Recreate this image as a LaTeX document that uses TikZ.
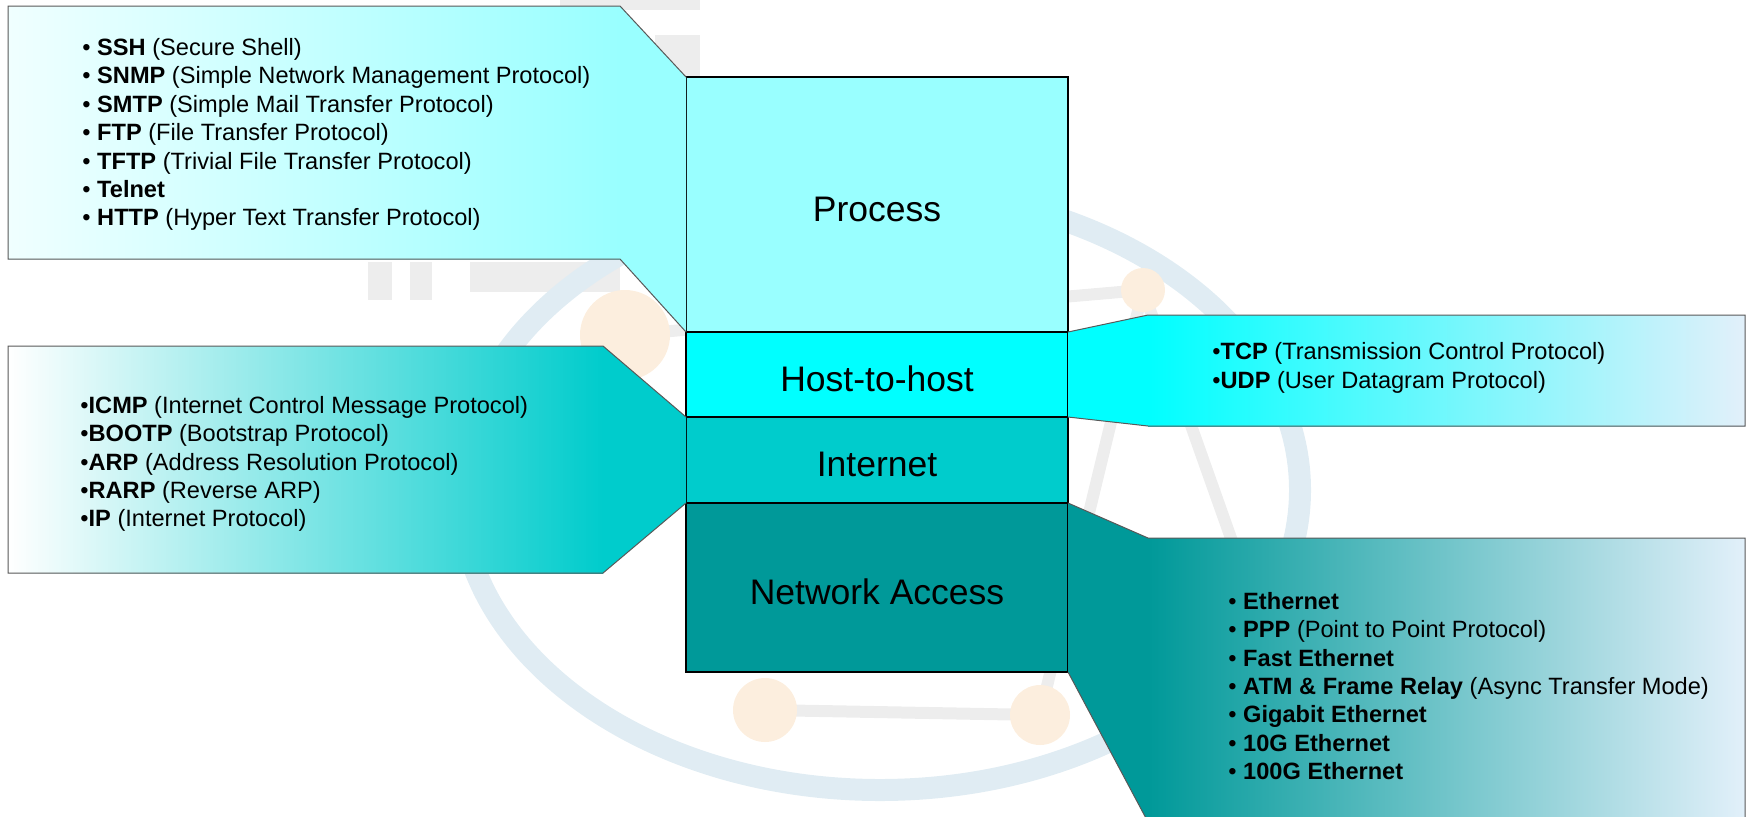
\documentclass[tikz,border=0pt]{standalone}
\usepackage{fontspec}
\setmainfont{Liberation Sans}
\usepackage{tikz}
\usetikzlibrary{positioning}

\definecolor{procfill}{RGB}{153,255,255}
\definecolor{hostfill}{RGB}{0,255,255}
\definecolor{inetfill}{RGB}{0,204,204}
\definecolor{nafill}{RGB}{0,153,153}
\definecolor{pale}{RGB}{226,240,250}
\definecolor{paletop}{RGB}{240,255,255}
\definecolor{wmblue}{RGB}{224,236,243}
\definecolor{wmorange}{RGB}{252,238,222}
\definecolor{wmgray}{RGB}{237,237,237}

\tikzset{
  layer/.style={draw=black, line width=0.8pt, outer sep=0pt, inner sep=0pt,
    minimum width=191pt, text height=16.5pt, text depth=0pt,
    font=\fontsize{17.75}{20}\selectfont},
  callout/.style={draw=black!65, line width=0.5pt},
  protolist/.style={align=left, inner sep=0pt, anchor=west,
    font=\fontsize{11.8}{14.2}\selectfont}
}

\begin{document}
\begin{tikzpicture}[x=0.5pt,y=-0.5pt]
  \useasboundingbox (0,0) rectangle (1748,816);

  % faint logo in the background
  \fill[wmgray] (560,0) rectangle (700,10);
  \fill[wmgray] (655,35) rectangle (700,80);
  \fill[wmgray] (368,262) rectangle (392,300);
  \fill[wmgray] (410,262) rectangle (432,300);
  \fill[wmgray] (470,262) rectangle (620,292);
  \draw[wmblue, line width=11pt] (880,490) ellipse [x radius=420, y radius=300];
  \draw[wmgray, line width=6pt] (625,335) -- (1143,290);
  \draw[wmgray, line width=6pt] (1143,290) -- (1040,715);
  \draw[wmgray, line width=6pt] (1143,290) -- (1260,620);
  \draw[wmgray, line width=6pt] (765,710) -- (1040,715);
  \fill[wmorange] (625,335) circle (45);
  \fill[wmorange] (1143,290) circle (22);
  \fill[wmorange] (765,710) circle (32);
  \fill[wmorange] (1040,715) circle (30);

  % TCP/IP layers
  \node[layer, fill=procfill, minimum height=127.5pt, anchor=north west]
    (process) at (686,77) {Process};
  \node[layer, fill=hostfill, minimum height=42.5pt, below=0pt of process]
    (host) {Host-to-host};
  \node[layer, fill=inetfill, minimum height=43pt, below=0pt of host]
    (internet) {Internet};
  \node[layer, fill=nafill, minimum height=84.5pt, below=0pt of internet]
    (netaccess) {Network Access};

  % process callout
  \shade[left color=paletop, right color=procfill] (8,6) rectangle (620,259);
  \fill[procfill] (620,6) -- (process.north west) -- (process.south west) --
    (620,259) -- cycle;
  \draw[callout] (process.north west) -- (620,6) -- (8,6) -- (8,259) --
    (620,259) -- (process.south west);

  % internet callout
  \shade[left color=white, right color=inetfill] (8,346) rectangle (603,573);
  \fill[inetfill] (603,346) -- (internet.north west) -- (internet.south west) --
    (603,573) -- cycle;
  \draw[callout] (internet.north west) -- (603,346) -- (8,346) -- (8,573) --
    (603,573) -- (internet.south west);

  % host-to-host callout
  \shade[left color=hostfill, middle color=hostfill!75!pale, right color=pale]
    (1148,315) rectangle (1745,426);
  \fill[hostfill] (host.north east) -- (1148,315) -- (1148,426) --
    (host.south east) -- cycle;
  \draw[callout] (host.north east) -- (1148,315) -- (1745,315) -- (1745,426) --
    (1148,426) -- (host.south east);

  % network access callout
  \shade[left color=nafill, right color=pale] (1148,538) rectangle (1745,822);
  \fill[nafill] (netaccess.north east) -- (1148,538) -- (1148,822) --
    (netaccess.south east) -- cycle;
  \draw[callout] (netaccess.north east) -- (1148,538) -- (1745,538) --
    (1745,822);
  \draw[callout] (netaccess.south east) -- (1148,822);

  % protocol lists
  \node[protolist] (applist) at (82,134.5) {%
    \textbullet\ \textbf{SSH} (Secure Shell)\\
    \textbullet\ \textbf{SNMP} (Simple Network Management Protocol)\\
    \textbullet\ \textbf{SMTP} (Simple Mail Transfer Protocol)\\
    \textbullet\ \textbf{FTP} (File Transfer Protocol)\\
    \textbullet\ \textbf{TFTP} (Trivial File Transfer Protocol)\\
    \textbullet\ \textbf{Telnet}\\
    \textbullet\ \textbf{HTTP} (Hyper Text Transfer Protocol)};
  \node[protolist] (inetlist) at (80,464) {%
    \textbullet\textbf{ICMP} (Internet Control Message Protocol)\\
    \textbullet\textbf{BOOTP} (Bootstrap Protocol)\\
    \textbullet\textbf{ARP} (Address Resolution Protocol)\\
    \textbullet\textbf{RARP} (Reverse ARP)\\
    \textbullet\textbf{IP} (Internet Protocol)};
  \node[protolist] (hostlist) at (1212,368) {%
    \textbullet\textbf{TCP} (Transmission Control Protocol)\\
    \textbullet\textbf{UDP} (User Datagram Protocol)};
  \node[protolist] (nalist) at (1228,686) {%
    \textbullet\ \textbf{Ethernet}\\
    \textbullet\ \textbf{PPP} (Point to Point Protocol)\\
    \textbullet\ \textbf{Fast Ethernet}\\
    \textbullet\ \textbf{ATM \& Frame Relay} (Async Transfer Mode)\\
    \textbullet\ \textbf{Gigabit Ethernet}\\
    \textbullet\ \textbf{10G Ethernet}\\
    \textbullet\ \textbf{100G Ethernet}};
\end{tikzpicture}
\end{document}
